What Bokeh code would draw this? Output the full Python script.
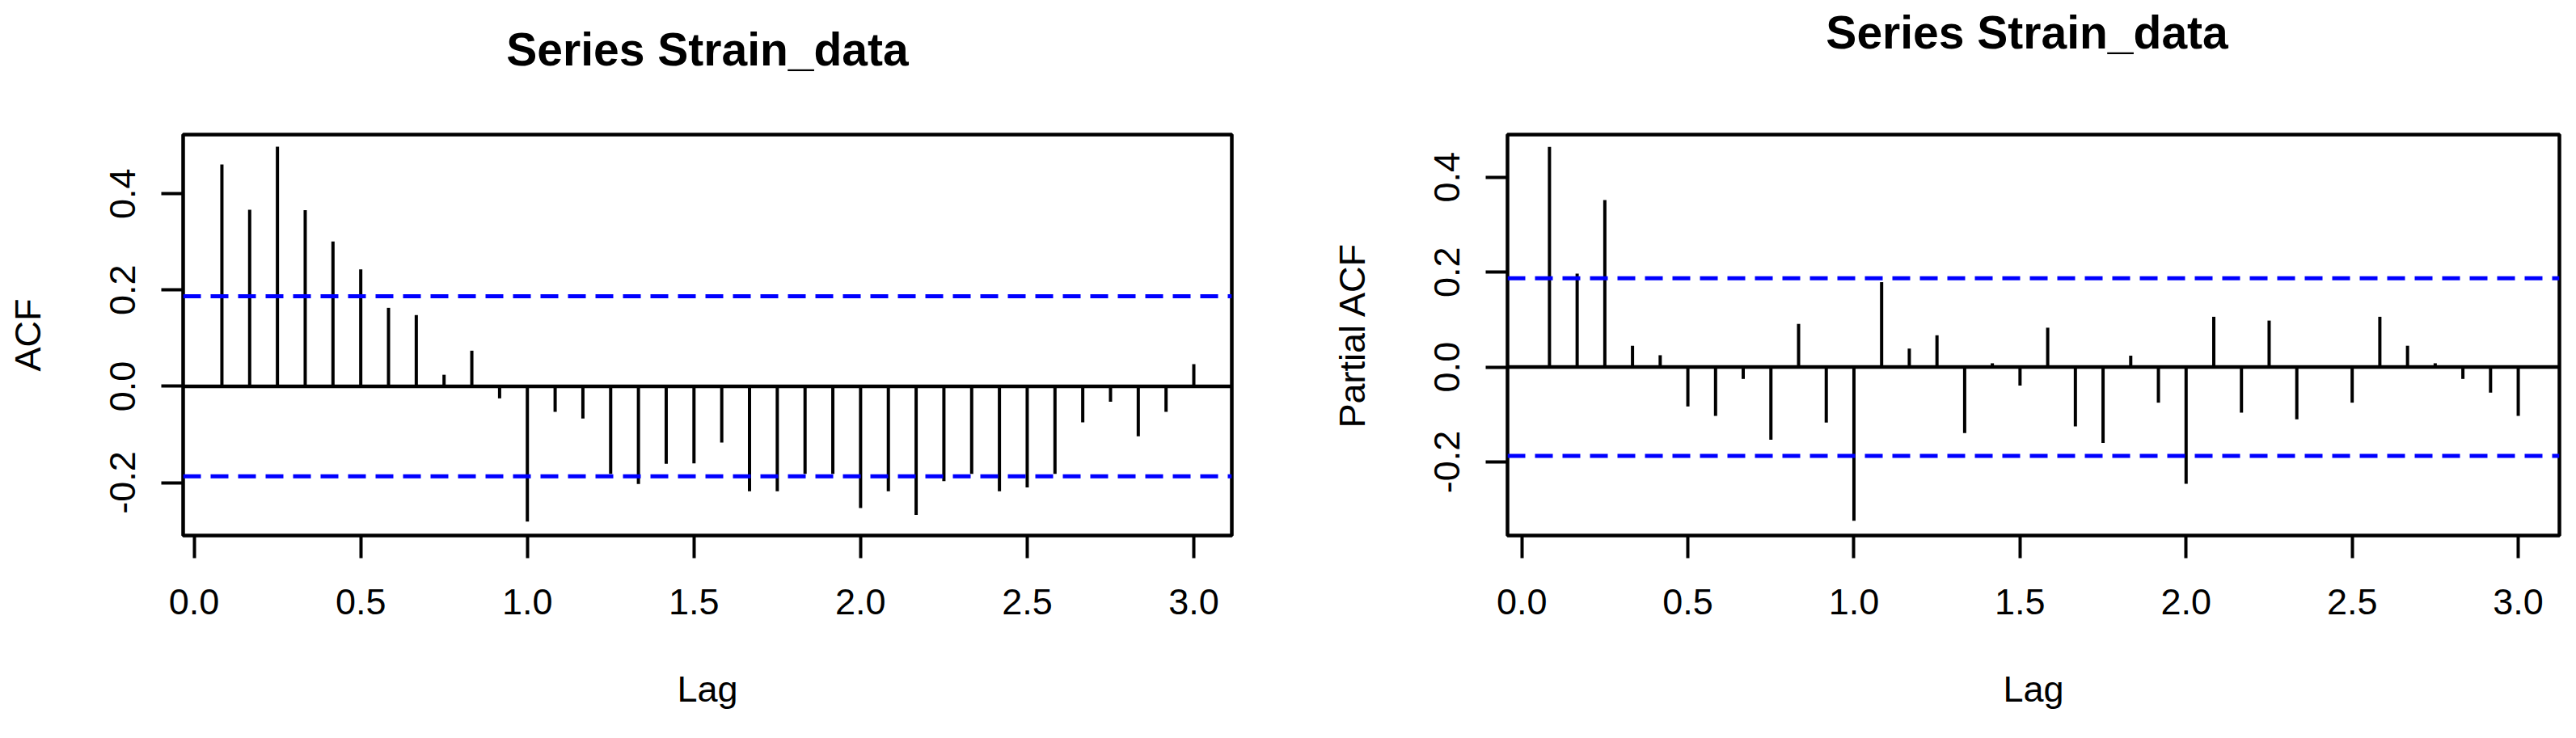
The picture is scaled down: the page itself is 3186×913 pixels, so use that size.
from bokeh.plotting import figure
from bokeh.layouts import row
from bokeh.models import Range1d, FixedTicker, PrintfTickFormatter, Span, LinearAxis
from bokeh.embed import file_html
from bokeh.resources import INLINE

# ---- data ----
lag_months = list(range(1, 37))          # lags 1..36 of a monthly series
frequency = 12
acf_values = [0.461, 0.367, 0.498, 0.366, 0.301, 0.243, 0.163, 0.148, 0.024, 0.074,
              -0.025, -0.281, -0.053, -0.067, -0.182, -0.203, -0.161, -0.160, -0.117, -0.218,
              -0.218, -0.182, -0.182, -0.253, -0.218, -0.267, -0.197, -0.182, -0.218, -0.210,
              -0.182, -0.075, -0.032, -0.104, -0.053, 0.046]
pacf_values = [0.464, 0.197, 0.352, 0.045, 0.025, -0.083, -0.103, -0.025, -0.153, 0.091,
               -0.117, -0.324, 0.179, 0.039, 0.067, -0.139, 0.008, -0.039, 0.083, -0.125,
               -0.160, 0.024, -0.075, -0.246, 0.106, -0.096, 0.098, -0.110, 0.002, -0.075,
               0.106, 0.045, 0.008, -0.025, -0.054, -0.103]
conf_limit = 0.187
x_ticks = [0.0, 0.5, 1.0, 1.5, 2.0, 2.5, 3.0]
y_ticks = [-0.2, 0.0, 0.2, 0.4]
titles = ["Series Strain_data", "Series  Strain_data"]
ylabels = ["ACF", "Partial ACF"]

lags = [m / frequency for m in lag_months]

FONT = "Liberation Sans"
FRAME_H = 496


def style_axis(ax):
    ax.axis_line_color = None
    ax.major_tick_line_color = "black"
    ax.major_tick_line_width = 4
    ax.major_tick_in = 0
    ax.minor_tick_line_color = None
    ax.major_label_text_font = FONT
    ax.major_label_text_font_size = "45px"
    ax.major_label_text_color = "black"
    ax.axis_label_text_font = FONT
    ax.axis_label_text_font_size = "45px"
    ax.axis_label_text_font_style = "normal"
    ax.axis_label_text_color = "black"
    ax.formatter = PrintfTickFormatter(format="%.1f")


def make_panel(values, title, ylabel, xr, yr, fw, bl, br, title_gap):
    p = figure(frame_width=fw, frame_height=FRAME_H,
               min_border_left=bl, min_border_right=br,
               min_border_top=166, min_border_bottom=243,
               x_range=Range1d(*xr), y_range=Range1d(*yr),
               output_backend="svg", toolbar_location=None)
    p.background_fill_color = "white"
    p.border_fill_color = "white"
    p.outline_line_color = "black"
    p.outline_line_width = 4.5
    p.grid.visible = False

    xax = p.below[0]
    yax = p.left[0]
    style_axis(xax)
    style_axis(yax)
    xax.ticker = FixedTicker(ticks=x_ticks)
    yax.ticker = FixedTicker(ticks=y_ticks)
    xax.major_tick_out = 28
    yax.major_tick_out = 27
    xax.major_label_standoff = 38
    yax.major_label_standoff = 32
    yax.major_label_orientation = "vertical"
    xax.axis_label = "Lag"
    yax.axis_label = ylabel
    xax.axis_label_standoff = 64
    yax.axis_label_standoff = 74

    # main title drawn as the label of a tick-less axis above the frame
    top = LinearAxis(ticker=FixedTicker(ticks=[]), axis_line_color=None,
                     major_tick_line_color=None, minor_tick_line_color=None,
                     major_tick_in=0, major_tick_out=0, minor_tick_in=0, minor_tick_out=0,
                     major_label_standoff=0,
                     axis_label=title, axis_label_standoff=title_gap,
                     axis_label_text_font=FONT, axis_label_text_font_style="bold",
                     axis_label_text_font_size="57px", axis_label_text_color="black")
    p.add_layout(top, "above")

    # zero line
    p.add_layout(Span(location=0, dimension="width", line_color="black", line_width=4.5))
    # confidence limits
    for c in (conf_limit, -conf_limit):
        p.add_layout(Span(location=c, dimension="width", line_color="#0000FF",
                          line_width=5, line_dash="22 12"))
    # spikes
    p.segment(x0=lags, y0=[0] * len(lags), x1=lags, y1=values,
              line_color="black", line_width=4)
    return p


p1 = make_panel(acf_values, titles[0], ylabels[0], (-0.033, 3.114), (-0.31, 0.523),
                1297, 226, 77, 74)
p2 = make_panel(pacf_values, titles[1], ylabels[1], (-0.043, 3.124), (-0.355, 0.49),
                1301, 264, 13, 95)

layout = row(p1, p2)
open("out.html", "w").write(file_html(layout, INLINE))
